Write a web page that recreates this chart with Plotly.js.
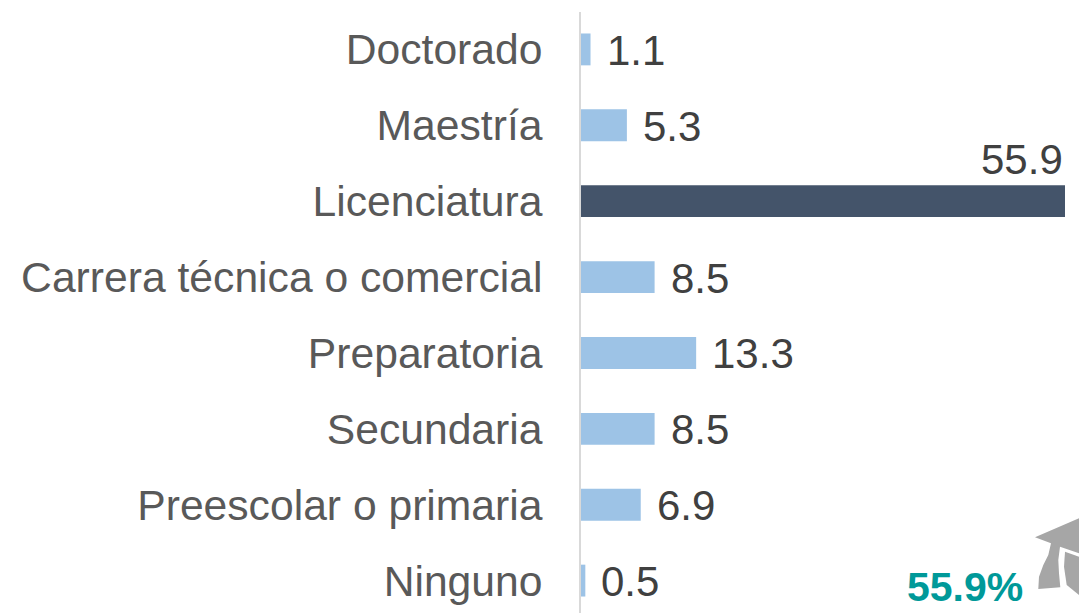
<!DOCTYPE html>
<html><head><meta charset="utf-8">
<script src="https://cdn.plot.ly/plotly-3.0.1.min.js"></script>
<style>html,body{margin:0;padding:0;background:#fff}#c{width:1079px;height:613px}</style>
</head><body><div id="c"></div>
<script>
const categories=["Ninguno","Preescolar o primaria","Secundaria","Preparatoria","Carrera técnica o comercial","Licenciatura","Maestría","Doctorado"];
const values=[0.5,6.9,8.5,13.3,8.5,55.9,5.3,1.1];
const labels=["0.5","6.9","8.5","13.3","8.5","55.9","5.3","1.1"];
const barColors=categories.map(c=>c==="Licenciatura"?"#44546A":"#9DC3E6");
const calloutText="55.9%";
const capBoard=[[1035,537.3],[1079,518.3],[1079,553.3],[1060,546.7],[1058.3,560],[1059,573.3],[1060.3,587.3],[1038.3,589],[1039,576.7],[1043.3,565],[1048.3,555],[1051,543.3]];
const capPanel=[[1065,551.7],[1079,556.7],[1079,595],[1066.7,585],[1064,566.7]];
const W=1079,H=613,L=581,R=14,T=12,B=0;
const font=(size,color,bold)=>({family:"Liberation Sans",size,color,weight:bold?700:400});
const trace={type:"bar",orientation:"h",x:values,y:categories,marker:{color:barColors},width:0.42,hoverinfo:"skip",cliponaxis:false,textposition:"none"};
const ann=categories.map((c,i)=>c==="Licenciatura"
 ?{x:values[i],y:c,xref:"x",yref:"y",text:labels[i],showarrow:false,xanchor:"right",yanchor:"bottom",yshift:16,xshift:0,font:font(42,"#404040")}
 :{x:values[i],y:c,xref:"x",yref:"y",text:labels[i],showarrow:false,xanchor:"left",xshift:14,yshift:-1,font:font(42,"#404040")});
const px=(x)=>(x-L)/(W-L-R), py=(y)=>(H-B-y)/(H-T-B);
ann.push({xref:"paper",yref:"paper",x:px(964.5),y:py(587),text:calloutText,showarrow:false,xanchor:"center",yanchor:"middle",font:font(41,"#009999",true)});
const pathOf=pts=>"M"+pts.map(p=>px(p[0])+","+py(p[1])).join("L")+"Z";
const capShape=pts=>({type:"path",xref:"paper",yref:"paper",path:pathOf(pts),fillcolor:"#A6A6A6",line:{width:0},layer:"above"});
const layout={width:W,height:H,margin:{l:L,r:R,t:T,b:B},paper_bgcolor:"#fff",plot_bgcolor:"#fff",showlegend:false,
 xaxis:{range:[0,55.9],visible:false,fixedrange:true},
 yaxis:{type:"category",categoryorder:"array",categoryarray:categories,range:[-0.427,7.493],tickfont:font(42.65,"#595959"),ticks:"",ticklen:0,showline:true,linecolor:"#D9D9D9",linewidth:2,showgrid:false,ticklabelstandoff:28,automargin:false},
 annotations:ann,shapes:[capShape(capBoard),capShape(capPanel)]};
Plotly.newPlot("c",[trace],layout,{displayModeBar:false,staticPlot:true});
</script></body></html>
